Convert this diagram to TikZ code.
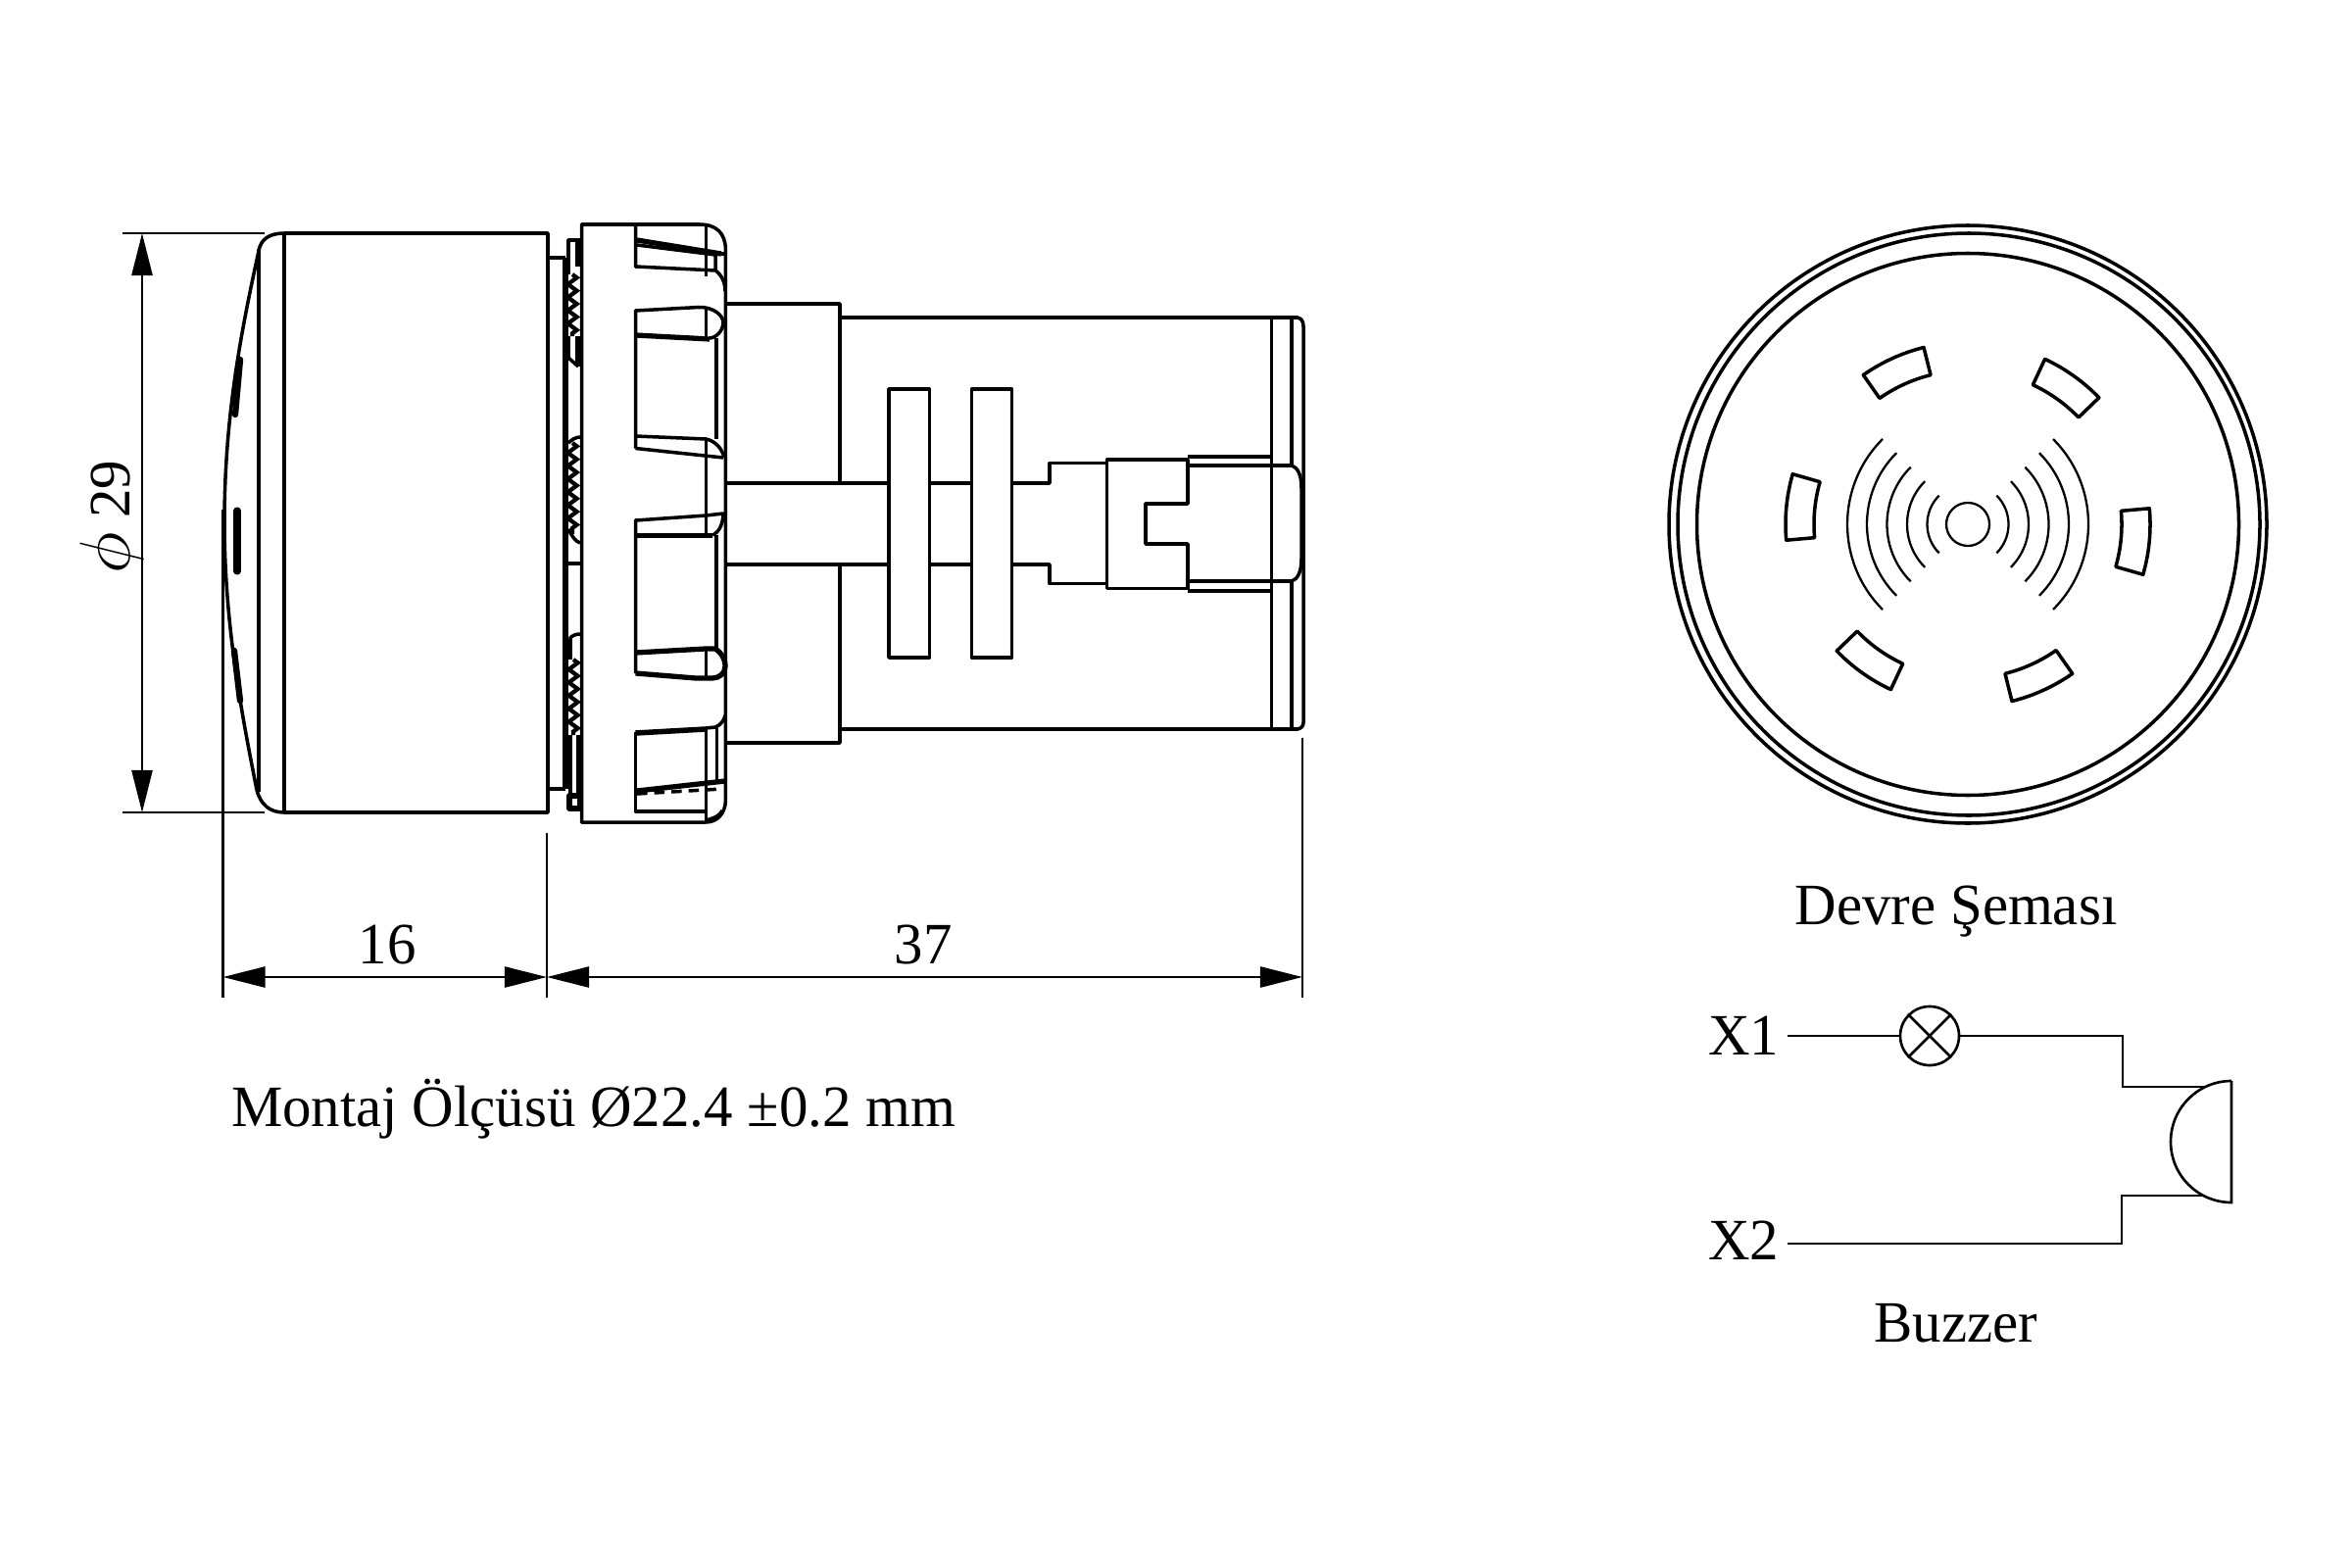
\documentclass[tikz,border=0pt]{standalone}
\usepackage{fontspec}
\setmainfont[FakeStretch=0.985]{Liberation Serif}
\usetikzlibrary{arrows.meta, positioning, calc, decorations.pathmorphing}

\begin{document}
\begin{tikzpicture}[
    x=0.01cm, y=-0.01cm,
    partline/.style={line width=1pt, line join=round, black},
    heavyline/.style={line width=1.5pt, line join=round, black},
    thinline/.style={line width=0.65pt, black},
    dimline/.style={line width=0.7pt, black, {Triangle[length=4.3mm, width=2.1mm]}-{Triangle[length=4.3mm, width=2.1mm]}},
    teeth/.style={line width=1.2pt, black, decorate, decoration={zigzag, amplitude=1.3pt, segment length=3.8pt}},
    drawtext/.style={font=\fontsize{17}{20}\selectfont, inner sep=0pt, anchor=base},
    wire/.style={line width=0.75pt, black}
]
\useasboundingbox (0,0) rectangle (2400,1600);

\draw[partline] (290,238) -- (559,238) -- (559,829) -- (290,829);
\draw[partline] (290,238) -- (290,829);
\draw[partline] (264,254) -- (264,808);
\draw[partline] (290,238) .. controls (275,238) and (266,244) .. (264,256)
    .. controls (248,330) and (229,420) .. (229,533)
    .. controls (229,640) and (248,735) .. (262,806)
    .. controls (266,821) and (275,829) .. (290,829);
\draw[line width=1.8pt, line cap=round] (245,367) -- (240,423);
\draw[line width=2pt, line cap=round] (242,521) -- (242,583);
\draw[line width=1.8pt, line cap=round] (239,664) -- (245,715);

\draw[partline] (559,263) -- (577,263);
\draw[partline] (559,805) -- (577,805);
\draw[heavyline] (577,263) -- (577,805);
\draw[partline] (592,245) -- (580,245) -- (580,280);
\draw[heavyline] (590,245) -- (590,272);
\draw[teeth] (584,280) -- (584,343);
\draw[heavyline] (590,343) -- (590,374);
\draw[partline] (580,343) -- (580,365) -- (590,374);
\draw[partline] (580,452) .. controls (584,448) and (588,446) .. (592,446);
\draw[teeth] (584,452) -- (584,545);
\draw[partline] (580,540) .. controls (584,548) and (588,553) .. (592,554);
\draw[partline] (578,575) -- (592,575);
\draw[partline] (581,652) .. controls (584,648) and (588,647) .. (592,647);
\draw[partline] (582,652) -- (582,673);
\draw[teeth] (585,673) -- (585,750);
\draw[partline] (582,750) -- (582,812);
\draw[heavyline] (581,812) rectangle (592,825);
\draw[partline] (590,750) -- (590,812);

\draw[partline] (593.5,825) -- (593.5,229) -- (714,229)
    .. controls (731,229) and (740,238) .. (740.4,254) -- (740.4,817)
    .. controls (740,830) and (732,839) .. (720,839) -- (593.5,839) -- cycle;
\draw[partline] (720.5,229) -- (720.5,282);
\draw[partline] (720.5,314) -- (720.5,345);
\draw[partline] (720.5,448) -- (720.5,546);
\draw[partline] (720.5,662) -- (720.5,693);
\draw[partline] (720.5,743) -- (720.5,839);

\draw[partline] (648.5,229) -- (648.5,272) -- (730,276)
    .. controls (736,280) and (740,288) .. (740,297);
\draw[heavyline] (650,245) -- (736,259);
\draw[partline] (650,250) -- (730,260) -- (730,276);
\draw[partline] (736,259) -- (740,259);

\draw[partline] (648.5,457.5) -- (648.5,317) -- (713,313.5)
    .. controls (728,313) and (738,322) .. (738,329)
    .. controls (738,338) and (730,345) .. (724,345);
\draw[heavyline] (648.5,342) -- (724,346);
\draw[partline] (731,345) -- (731,448);
\draw[partline] (648.5,445) -- (720.5,448)
    .. controls (730,450) and (737,458) .. (739,467);
\draw[partline] (648.5,457.5) -- (738,467);

\draw[partline] (648.5,687) -- (648.5,531) -- (720.5,526) -- (738,524)
    .. controls (738,535) and (733,544) .. (727,546);
\draw[heavyline] (648.5,546.6) -- (727,546.6);
\draw[partline] (731,546) -- (731,664);
\draw[heavyline] (648.5,666) -- (720,662) -- (730,662)
    .. controls (736,666) and (740,672) .. (740,680)
    .. controls (740,687) and (734,692) .. (727,692) -- (710,692) -- (648.5,687);

\draw[partline] (648.5,747) -- (648.5,828) -- (720,828);
\draw[partline] (648.5,747) -- (720,743) -- (730,742)
    .. controls (735,740) and (739,735) .. (740,730);
\draw[partline] (648.5,749) -- (720,745);
\draw[partline] (731.6,743) -- (731.6,797);
\draw[heavyline] (650,807) -- (740,797);
\draw[partline, densely dashed] (650,810) -- (737,805);
\draw[partline] (720,837) .. controls (729,835) and (735,832) .. (737,827);

\draw[partline] (741,310) -- (857,310) -- (857,493);
\draw[partline] (741,758) -- (857,758) -- (857,576);
\draw[partline] (857,324) -- (1324,324)
    .. controls (1328,325) and (1330,328) .. (1330,333) -- (1330,737)
    .. controls (1330,741) and (1328,743) .. (1324,744) -- (857,744);
\draw[partline] (1297.6,324) -- (1297.6,744);
\draw[partline] (1318,324) -- (1318,475);
\draw[partline] (1318,593) -- (1318,744);

\draw[partline] (741,493) -- (907,493);
\draw[partline] (741,576) -- (907,576);
\draw[partline, fill=white] (907,397) rectangle (948.6,671);
\draw[partline, fill=white] (991.4,397) rectangle (1032.6,671);
\draw[partline] (948.6,493) -- (991.4,493);
\draw[partline] (948.6,576) -- (991.4,576);
\draw[partline] (1032.6,493) -- (1071,493) -- (1071,472.5) -- (1129.5,472.5);
\draw[partline] (1032.6,576) -- (1071,576) -- (1071,595.5) -- (1129.5,595.5);
\draw[partline] (1212,514) -- (1212,469) -- (1129.5,469) -- (1129.5,600.5) -- (1212,600.5) -- (1212,555) -- (1169,555) -- (1169,514) -- cycle;
\draw[partline] (1212,466) -- (1297.6,466);
\draw[partline] (1212,603) -- (1297.6,603);
\draw[partline] (1212,475) -- (1318,475)
    .. controls (1324,477) and (1328,484) .. (1328,498) -- (1328,570)
    .. controls (1328,584) and (1324,591) .. (1318,593) -- (1212,593);

\coordinate (exttop) at (125,238);
\coordinate (extbot) at (125,829);
\draw[thinline] (exttop) -- (270,238);
\draw[thinline] (extbot) -- (270,829);
\draw[dimline] (145,238) -- (145,829);
\node[drawtext, rotate=90] (dia) at (132,528) {{\fontsize{21}{21}\selectfont$\phi$} 29};

\coordinate (dl) at (227.5,997);
\coordinate (dm) at (558,997);
\coordinate (dr) at (1329,997);
\draw[thinline] (227.5,520) -- (227.5,1018);
\draw[thinline] (558,850) -- (558,1018);
\draw[thinline] (1329,753) -- (1329,1018);
\draw[dimline] (dl) -- (dm);
\draw[dimline] (dm) -- (dr);
\node[drawtext] (len1) at (395,983) {16};
\node[drawtext] (len2) at (942,983) {37};
\node[drawtext] (montaj) at (605.5,1149) {Montaj Ölçüsü Ø22.4 ±0.2 mm};

\begin{scope}[shift={(2008,535)}, yscale=-1]
\draw[partline] (0,0) circle (305);
\draw[partline] (1,0) circle (297);
\draw[partline] (0,0) circle (276.5);
\draw[thinline] (0,0) circle (22);
\foreach \r in {41.5,62,82.5,103,123} {
    \draw[thinline] (-45:\r) arc[start angle=-45, end angle=45, radius=\r];
    \draw[thinline] (135:\r) arc[start angle=135, end angle=225, radius=\r];
}
\foreach \a in {-5.5,54.5,114.5,174.5,234.5,294.5} {
    \draw[partline] ({\a-10.5}:157) arc[start angle=\a-10.5, end angle=\a+10.5, radius=157]
        -- ({\a+10.5}:186) arc[start angle=\a+10.5, end angle=\a-10.5, radius=186] -- cycle;
}
\end{scope}

\node[drawtext] (title) at (1996,943) {Devre Şeması};
\node[drawtext] (buzzer) at (1996,1369) {Buzzer};
\node[drawtext] (x1) at (1779,1076) {X1};
\node[drawtext] (x2) at (1779,1285) {X2};
\coordinate (x1end) at (1824,1057);
\coordinate (x2end) at (1824,1269);
\node[draw, circle, wire, minimum size=0.6cm, inner sep=0pt] (lamp) at (1969,1057) {};
\draw[wire] (lamp.45) -- (lamp.225);
\draw[wire] (lamp.135) -- (lamp.315);
\coordinate (buzztop) at (2250,1109);
\coordinate (buzzbot) at (2250,1220);
\draw[wire] (x1end) -- (lamp);
\draw[wire] (lamp) -- (2166,1057) -- (2166,1109) -- (buzztop);
\draw[wire] (x2end) -- (2165,1269) -- (2165,1220) -- (buzzbot);
\draw[wire] (2277,1103) -- (2277,1227) arc[start angle=90, end angle=270, radius=62];
\end{tikzpicture}
\end{document}
